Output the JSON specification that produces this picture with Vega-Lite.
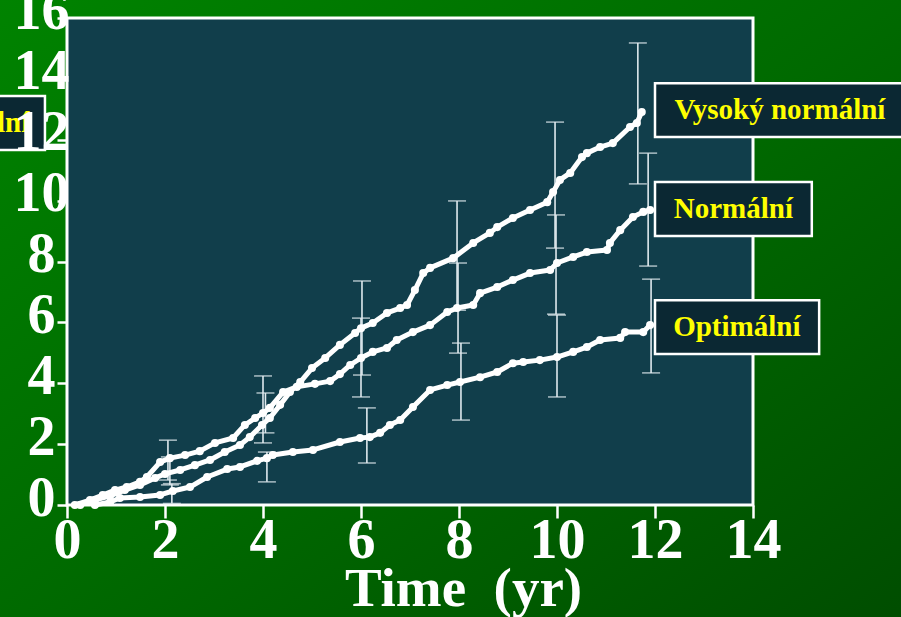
{
  "$schema": "https://vega.github.io/schema/vega-lite/v6.json",
  "autosize": {"type": "none"},
  "width": 686,
  "height": 487,
  "padding": {"left": 67, "top": 18, "right": 148, "bottom": 112},
  "background": "#006600",
  "datasets": {
    "bg": [{"x0": -1.6, "x1": 17.6, "y0": -4.2, "y1": 17.2}],
    "panel": [{"x0": 0, "x1": 14, "y0": 0, "y1": 16}],
    "curves": [
      {"series": "Vysoký normální", "t": 0.27, "v": 0},
      {"series": "Vysoký normální", "t": 0.57, "v": 0.16},
      {"series": "Vysoký normální", "t": 0.88, "v": 0.30},
      {"series": "Vysoký normální", "t": 1.18, "v": 0.49},
      {"series": "Vysoký normální", "t": 1.49, "v": 0.66},
      {"series": "Vysoký normální", "t": 1.80, "v": 0.89},
      {"series": "Vysoký normální", "t": 2.00, "v": 1.02},
      {"series": "Vysoký normální", "t": 2.31, "v": 1.15},
      {"series": "Vysoký normální", "t": 2.61, "v": 1.31},
      {"series": "Vysoký normální", "t": 2.92, "v": 1.48},
      {"series": "Vysoký normální", "t": 3.22, "v": 1.74},
      {"series": "Vysoký normální", "t": 3.53, "v": 1.97},
      {"series": "Vysoký normální", "t": 3.73, "v": 2.23},
      {"series": "Vysoký normální", "t": 3.98, "v": 2.63},
      {"series": "Vysoký normální", "t": 4.14, "v": 2.86},
      {"series": "Vysoký normální", "t": 4.35, "v": 3.29},
      {"series": "Vysoký normální", "t": 4.55, "v": 3.71},
      {"series": "Vysoký normální", "t": 4.76, "v": 4.04},
      {"series": "Vysoký normální", "t": 5.00, "v": 4.50},
      {"series": "Vysoký normální", "t": 5.27, "v": 4.83},
      {"series": "Vysoký normální", "t": 5.57, "v": 5.26},
      {"series": "Vysoký normální", "t": 5.88, "v": 5.65},
      {"series": "Vysoký normální", "t": 6.00, "v": 5.81},
      {"series": "Vysoký normální", "t": 6.24, "v": 5.98},
      {"series": "Vysoký normální", "t": 6.53, "v": 6.31},
      {"series": "Vysoký normální", "t": 6.80, "v": 6.47},
      {"series": "Vysoký normální", "t": 6.94, "v": 6.57},
      {"series": "Vysoký normální", "t": 7.10, "v": 7.06},
      {"series": "Vysoký normální", "t": 7.27, "v": 7.62},
      {"series": "Vysoký normální", "t": 7.41, "v": 7.79},
      {"series": "Vysoký normální", "t": 7.88, "v": 8.11},
      {"series": "Vysoký normální", "t": 8.29, "v": 8.61},
      {"series": "Vysoký normální", "t": 8.63, "v": 8.94},
      {"series": "Vysoký normální", "t": 8.78, "v": 9.13},
      {"series": "Vysoký normální", "t": 9.10, "v": 9.43},
      {"series": "Vysoký normální", "t": 9.45, "v": 9.69},
      {"series": "Vysoký normální", "t": 9.80, "v": 9.95},
      {"series": "Vysoký normální", "t": 9.92, "v": 10.28},
      {"series": "Vysoký normální", "t": 10.06, "v": 10.68},
      {"series": "Vysoký normální", "t": 10.27, "v": 10.91},
      {"series": "Vysoký normální", "t": 10.51, "v": 11.43},
      {"series": "Vysoký normální", "t": 10.61, "v": 11.56},
      {"series": "Vysoký normální", "t": 10.88, "v": 11.76},
      {"series": "Vysoký normální", "t": 11.14, "v": 11.89},
      {"series": "Vysoký normální", "t": 11.49, "v": 12.42},
      {"series": "Vysoký normální", "t": 11.63, "v": 12.55},
      {"series": "Vysoký normální", "t": 11.73, "v": 12.91},
      {"series": "Normální", "t": 0.16, "v": 0},
      {"series": "Normální", "t": 0.47, "v": 0.16},
      {"series": "Normální", "t": 0.73, "v": 0.33},
      {"series": "Normální", "t": 0.98, "v": 0.49},
      {"series": "Normální", "t": 1.22, "v": 0.59},
      {"series": "Normální", "t": 1.49, "v": 0.76},
      {"series": "Normální", "t": 1.63, "v": 0.92},
      {"series": "Normální", "t": 1.90, "v": 1.41},
      {"series": "Normální", "t": 2.10, "v": 1.54},
      {"series": "Normální", "t": 2.41, "v": 1.64},
      {"series": "Normální", "t": 2.71, "v": 1.77},
      {"series": "Normální", "t": 3.02, "v": 2.04},
      {"series": "Normální", "t": 3.39, "v": 2.20},
      {"series": "Normální", "t": 3.63, "v": 2.63},
      {"series": "Normální", "t": 3.84, "v": 2.86},
      {"series": "Normální", "t": 4.00, "v": 3.02},
      {"series": "Normální", "t": 4.14, "v": 3.19},
      {"series": "Normální", "t": 4.41, "v": 3.71},
      {"series": "Normální", "t": 4.69, "v": 3.88},
      {"series": "Normální", "t": 5.06, "v": 3.98},
      {"series": "Normální", "t": 5.37, "v": 4.07},
      {"series": "Normální", "t": 5.57, "v": 4.30},
      {"series": "Normální", "t": 5.78, "v": 4.60},
      {"series": "Normální", "t": 6.00, "v": 4.83},
      {"series": "Normální", "t": 6.24, "v": 5.03},
      {"series": "Normální", "t": 6.53, "v": 5.16},
      {"series": "Normální", "t": 6.73, "v": 5.42},
      {"series": "Normální", "t": 7.06, "v": 5.68},
      {"series": "Normální", "t": 7.41, "v": 5.91},
      {"series": "Normální", "t": 7.76, "v": 6.34},
      {"series": "Normální", "t": 7.96, "v": 6.47},
      {"series": "Normální", "t": 8.29, "v": 6.57},
      {"series": "Normální", "t": 8.43, "v": 6.96},
      {"series": "Normální", "t": 8.78, "v": 7.16},
      {"series": "Normální", "t": 9.10, "v": 7.39},
      {"series": "Normální", "t": 9.45, "v": 7.62},
      {"series": "Normální", "t": 9.86, "v": 7.72},
      {"series": "Normální", "t": 10.00, "v": 7.95},
      {"series": "Normální", "t": 10.33, "v": 8.15},
      {"series": "Normální", "t": 10.61, "v": 8.31},
      {"series": "Normální", "t": 11.02, "v": 8.38},
      {"series": "Normální", "t": 11.08, "v": 8.61},
      {"series": "Normální", "t": 11.29, "v": 9.03},
      {"series": "Normální", "t": 11.55, "v": 9.46},
      {"series": "Normální", "t": 11.76, "v": 9.63},
      {"series": "Normální", "t": 11.90, "v": 9.69},
      {"series": "Optimální", "t": 0.57, "v": 0},
      {"series": "Optimální", "t": 0.88, "v": 0.10},
      {"series": "Optimální", "t": 1.08, "v": 0.23},
      {"series": "Optimální", "t": 1.49, "v": 0.26},
      {"series": "Optimální", "t": 1.90, "v": 0.33},
      {"series": "Optimální", "t": 2.16, "v": 0.46},
      {"series": "Optimální", "t": 2.51, "v": 0.59},
      {"series": "Optimální", "t": 2.86, "v": 0.92},
      {"series": "Optimální", "t": 3.27, "v": 1.18},
      {"series": "Optimální", "t": 3.53, "v": 1.25},
      {"series": "Optimální", "t": 3.88, "v": 1.45},
      {"series": "Optimální", "t": 4.08, "v": 1.54},
      {"series": "Optimální", "t": 4.20, "v": 1.64},
      {"series": "Optimální", "t": 4.61, "v": 1.74},
      {"series": "Optimální", "t": 5.02, "v": 1.81},
      {"series": "Optimální", "t": 5.57, "v": 2.07},
      {"series": "Optimální", "t": 5.98, "v": 2.20},
      {"series": "Optimální", "t": 6.18, "v": 2.23},
      {"series": "Optimální", "t": 6.39, "v": 2.37},
      {"series": "Optimální", "t": 6.59, "v": 2.63},
      {"series": "Optimální", "t": 6.80, "v": 2.79},
      {"series": "Optimální", "t": 7.06, "v": 3.22},
      {"series": "Optimální", "t": 7.41, "v": 3.78},
      {"series": "Optimální", "t": 7.76, "v": 3.94},
      {"series": "Optimální", "t": 8.02, "v": 4.04},
      {"series": "Optimální", "t": 8.43, "v": 4.20},
      {"series": "Optimální", "t": 8.78, "v": 4.37},
      {"series": "Optimální", "t": 9.10, "v": 4.66},
      {"series": "Optimální", "t": 9.31, "v": 4.70},
      {"series": "Optimální", "t": 9.65, "v": 4.76},
      {"series": "Optimální", "t": 10.00, "v": 4.86},
      {"series": "Optimální", "t": 10.33, "v": 5.03},
      {"series": "Optimální", "t": 10.61, "v": 5.19},
      {"series": "Optimální", "t": 10.88, "v": 5.42},
      {"series": "Optimální", "t": 11.29, "v": 5.49},
      {"series": "Optimální", "t": 11.39, "v": 5.68},
      {"series": "Optimální", "t": 11.76, "v": 5.68},
      {"series": "Optimální", "t": 11.90, "v": 5.91}
    ],
    "bars": [
      {"series": "Normální", "t": 2.06, "lo": 0.82, "hi": 2.13},
      {"series": "Vysoký normální", "t": 2.10, "lo": 0.66, "hi": 1.58},
      {"series": "Optimální", "t": 2.14, "lo": 0.05, "hi": 0.7},
      {"series": "Normální", "t": 4.00, "lo": 2.04, "hi": 4.24},
      {"series": "Vysoký normální", "t": 4.05, "lo": 2.37, "hi": 3.68},
      {"series": "Optimální", "t": 4.08, "lo": 0.76, "hi": 1.74},
      {"series": "Vysoký normální", "t": 6.02, "lo": 4.27, "hi": 7.36},
      {"series": "Normální", "t": 6.00, "lo": 3.55, "hi": 6.14},
      {"series": "Optimální", "t": 6.12, "lo": 1.38, "hi": 3.19},
      {"series": "Vysoký normální", "t": 7.96, "lo": 6.4, "hi": 9.99},
      {"series": "Normální", "t": 7.98, "lo": 4.99, "hi": 7.95},
      {"series": "Optimální", "t": 8.04, "lo": 2.79, "hi": 5.32},
      {"series": "Vysoký normální", "t": 9.96, "lo": 8.44, "hi": 12.58},
      {"series": "Normální", "t": 9.98, "lo": 6.27, "hi": 9.53},
      {"series": "Optimální", "t": 10.0, "lo": 3.55, "hi": 6.24},
      {"series": "Vysoký normální", "t": 11.65, "lo": 10.55, "hi": 15.18},
      {"series": "Normální", "t": 11.86, "lo": 7.85, "hi": 11.56},
      {"series": "Optimální", "t": 11.92, "lo": 4.34, "hi": 7.42}
    ],
    "boxes": [
      {"label": "Vysoký normální", "x0": 12.0, "x1": 17.6, "y0": 12.09, "y1": 13.86, "tx": 14.55, "ty": 12.98},
      {"label": "Normální", "x0": 12.0, "x1": 15.2, "y0": 8.84, "y1": 10.61, "tx": 13.6, "ty": 9.72},
      {"label": "Optimální", "x0": 12.0, "x1": 15.35, "y0": 4.96, "y1": 6.73, "tx": 13.67, "ty": 5.85},
      {"label": "lní", "x0": -1.8, "x1": -0.45, "y0": 11.66, "y1": 13.44, "tx": -1.1, "ty": 12.55}
    ]
  },
  "encoding": {
    "x": {"type": "quantitative", "scale": {"domain": [0, 14], "nice": false, "zero": false}},
    "y": {"type": "quantitative", "scale": {"domain": [0, 16], "nice": false, "zero": false}}
  },
  "layer": [
    {
      "data": {"name": "bg"},
      "mark": {"type": "rect", "clip": false, "fill": {"gradient": "linear", "x1": 0, "y1": 0, "x2": 1, "y2": 1, "stops": [{"offset": 0, "color": "#008400"}, {"offset": 0.5, "color": "#006a00"}, {"offset": 1, "color": "#004c00"}]}},
      "encoding": {
        "x": {"field": "x0", "type": "quantitative", "axis": {"values": [0, 2, 4, 6, 8, 10, 12, 14], "domain": false, "grid": false, "tickColor": "white", "tickSize": 13, "tickWidth": 2.5, "labelFont": "Liberation Serif", "labelFontWeight": "bold", "labelFontSize": 56, "labelColor": "white", "labelBaseline": "alphabetic", "labelPadding": 39, "labelFlush": false, "labelOverlap": false, "title": "Time\u00a0\u00a0(yr)", "titleFont": "Liberation Serif", "titleFontSize": 55, "titleFontWeight": "bold", "titleColor": "white", "titleX": 396, "titleY": 100, "titleAlign": "center", "titleBaseline": "alphabetic", "zindex": 1}},
        "x2": {"field": "x1"},
        "y": {"field": "y0", "type": "quantitative", "axis": {"values": [0, 2, 4, 6, 8, 10, 12, 14, 16], "domain": false, "grid": false, "tickColor": "white", "tickSize": 10, "tickWidth": 2.5, "labelFont": "Liberation Serif", "labelFontWeight": "bold", "labelFontSize": 56, "labelColor": "white", "labelAlign": "center", "labelBaseline": "middle", "labelPadding": 16, "labelOffset": -7, "labelFlush": false, "labelOverlap": false, "title": null, "zindex": 1}},
        "y2": {"field": "y1"}
      }
    },
    {
      "data": {"name": "panel"},
      "mark": {"type": "rect", "clip": false, "fill": "#113e4b", "stroke": "white", "strokeWidth": 3},
      "encoding": {
        "x": {"field": "x0", "type": "quantitative"},
        "x2": {"field": "x1"},
        "y": {"field": "y0", "type": "quantitative"},
        "y2": {"field": "y1"}
      }
    },
    {
      "data": {"name": "bars"},
      "mark": {"type": "rule", "color": "#dfe9ee", "strokeWidth": 1.6},
      "encoding": {
        "x": {"field": "t", "type": "quantitative"},
        "y": {"field": "lo", "type": "quantitative"},
        "y2": {"field": "hi"}
      }
    },
    {
      "data": {"name": "bars"},
      "mark": {"type": "tick", "orient": "horizontal", "color": "#dfe9ee", "size": 18, "thickness": 1.6},
      "encoding": {
        "x": {"field": "t", "type": "quantitative"},
        "y": {"field": "lo", "type": "quantitative"}
      }
    },
    {
      "data": {"name": "bars"},
      "mark": {"type": "tick", "orient": "horizontal", "color": "#dfe9ee", "size": 18, "thickness": 1.6},
      "encoding": {
        "x": {"field": "t", "type": "quantitative"},
        "y": {"field": "hi", "type": "quantitative"}
      }
    },
    {
      "data": {"name": "curves"},
      "mark": {"type": "line", "color": "white", "strokeWidth": 5, "strokeCap": "round", "strokeJoin": "round", "point": {"filled": true, "size": 65, "color": "white", "opacity": 1}},
      "encoding": {
        "x": {"field": "t", "type": "quantitative"},
        "y": {"field": "v", "type": "quantitative"},
        "detail": {"field": "series"},
        "order": {"field": "t"}
      }
    },
    {
      "data": {"name": "boxes"},
      "mark": {"type": "rect", "clip": false, "fill": "#0b2833", "stroke": "white", "strokeWidth": 2.5},
      "encoding": {
        "x": {"field": "x0", "type": "quantitative"},
        "x2": {"field": "x1"},
        "y": {"field": "y0", "type": "quantitative"},
        "y2": {"field": "y1"}
      }
    },
    {
      "data": {"name": "boxes"},
      "mark": {"type": "text", "clip": false, "color": "#ffff00", "font": "Liberation Serif", "fontWeight": "bold", "fontSize": 29, "align": "center", "baseline": "middle"},
      "encoding": {
        "x": {"field": "tx", "type": "quantitative"},
        "y": {"field": "ty", "type": "quantitative"},
        "text": {"field": "label"}
      }
    }
  ],
  "config": {"view": {"stroke": null}}
}
